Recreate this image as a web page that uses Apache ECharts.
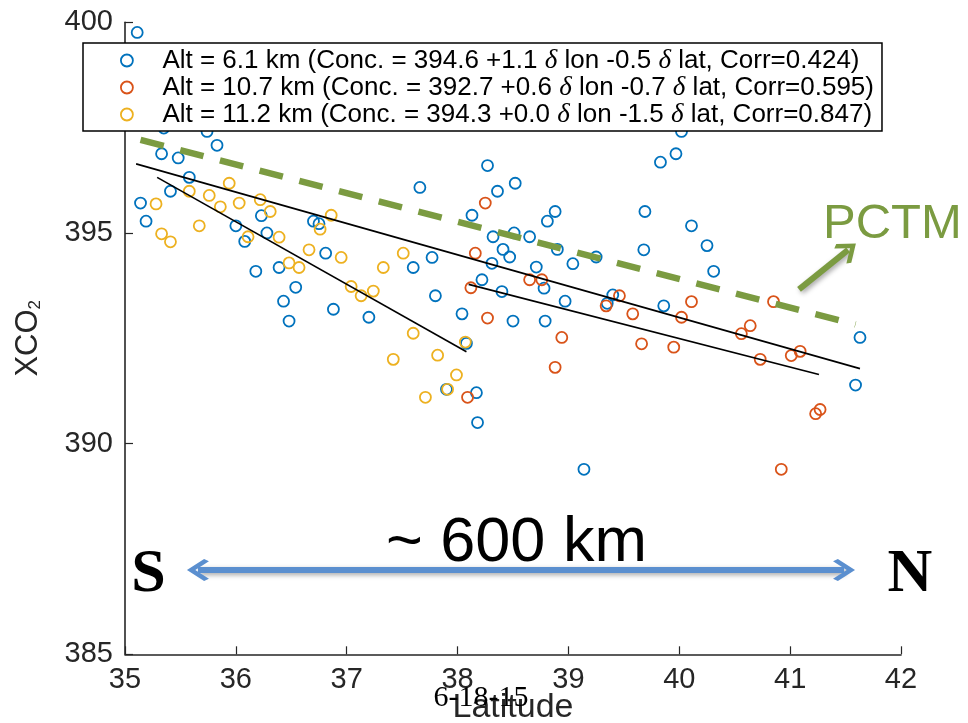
<!DOCTYPE html>
<html>
<head>
<meta charset="utf-8">
<script src="https://cdn.jsdelivr.net/npm/echarts@6/dist/echarts.min.js"></script>
<style>
  html, body { margin: 0; padding: 0; background: #fff; }
  #chart { width: 968px; height: 723px; }
</style>
</head>
<body>
<div id="chart"></div>
<script>
// XCO2 along the flight track, three altitude legs (latitude vs. column CO2)
const seriesNames = [
  'Alt = 6.1 km (Conc. = 394.6 +1.1 δ lon -0.5 δ lat, Corr=0.424)',
  'Alt = 10.7 km (Conc. = 392.7 +0.6 δ lon -0.7 δ lat, Corr=0.595)',
  'Alt = 11.2 km (Conc. = 394.3 +0.0 δ lon -1.5 δ lat, Corr=0.847)'
];

// 6.1 km leg
const lat61 = [35.11, 35.35, 35.53, 35.74, 35.83, 35.33, 35.48, 35.58, 35.41, 36.23,
  35.14, 35.19, 36.00, 36.08, 36.28, 36.18, 36.39, 36.81, 36.54, 36.43,
  36.48, 36.88, 37.20, 37.60, 37.77, 37.80, 38.04, 38.08, 37.90, 38.17,
  38.18, 36.70, 36.75, 37.66, 38.27, 38.36, 38.52, 38.13, 38.32, 38.51,
  38.65, 38.81, 38.88, 38.31, 38.22, 38.41, 38.47, 38.90, 39.04, 39.25,
  39.68, 39.69, 40.02, 39.97, 39.83, 40.11, 40.25, 40.31, 38.71, 38.78,
  38.40, 38.97, 38.50, 38.79, 39.40, 39.35, 39.86, 41.63, 41.59, 39.14];
const xco61 = [399.76, 397.49, 397.62, 397.41, 397.08, 396.88, 396.78, 396.32, 395.99, 395.41,
  395.71, 395.28, 395.17, 394.80, 395.00, 394.09, 394.18, 394.52, 393.71, 393.38,
  392.91, 393.19, 393.00, 394.18, 394.42, 393.51, 393.08, 392.38, 391.29, 391.21,
  390.50, 395.28, 395.22, 396.08, 396.60, 395.99, 396.18, 395.42, 394.91, 395.00,
  394.91, 395.28, 395.51, 394.28, 393.89, 394.61, 394.43, 394.61, 394.27, 394.43,
  394.60, 395.51, 397.41, 396.88, 396.68, 395.17, 394.70, 394.09, 394.19, 393.69,
  393.61, 393.38, 392.91, 392.91, 393.53, 393.33, 393.27, 392.52, 391.39, 389.39];

// 10.7 km leg
const lat107 = [38.25, 38.16, 38.12, 38.27, 38.09, 38.65, 38.76, 38.94, 38.88, 39.46,
  39.34, 39.58, 40.11, 40.02, 39.66, 39.95, 40.85, 40.64, 40.56, 40.73,
  41.01, 41.09, 41.23, 41.27, 40.92];
const xco107 = [395.71, 394.52, 393.70, 392.98, 391.10, 393.89, 393.89, 392.52, 391.81, 393.51,
  393.27, 393.08, 393.37, 393.00, 392.37, 392.29, 393.37, 392.80, 392.61, 392.00,
  392.09, 392.19, 390.71, 390.81, 389.39];

// 11.2 km leg
const lat112 = [35.94, 35.58, 35.76, 35.86, 36.03, 36.22, 36.31, 35.28, 35.33, 35.41,
  35.67, 36.11, 36.39, 36.86, 36.76, 36.66, 36.48, 36.57, 36.95, 37.04,
  37.13, 37.24, 37.33, 37.51, 37.60, 37.42, 37.82, 38.07, 37.99, 37.71, 37.91];
const xco112 = [396.18, 395.99, 395.89, 395.62, 395.71, 395.79, 395.51, 395.69, 394.98, 394.79,
  395.17, 394.91, 394.90, 395.42, 395.09, 394.60, 394.29, 394.18, 394.42, 393.73,
  393.51, 393.62, 394.18, 394.52, 392.62, 392.00, 392.10, 392.41, 391.63, 391.10, 391.29];

// Linear fits for each leg: [lat, xco2] at both ends
const fit61 = [[35.10, 396.64], [41.63, 391.78]];
const fit107 = [[38.10, 393.78], [41.26, 391.64]];
const fit112 = [[35.29, 396.32], [38.08, 392.18]];

// PCTM model along the track
const pctmLine = [[35.14, 397.21], [41.59, 392.83]];

// Annotation arrows (data coordinates)
const pctmPointer = [[41.08, 393.66], [41.523, 394.60]];
const spanArrow = [[35.658, 387.0], [41.486, 387.0]];

const xTicks = [35, 42, 1];
const yTicks = [385, 400, 5];

const colors = ['#0072BD', '#D95319', '#EDB120'];
const green = '#7b9b41';
const arrowBlue = '#5b8fcf';
const axisColor = '#262626';
const SANS = 'Liberation Sans, Arial, Helvetica, sans-serif';
const SERIF = 'Liberation Serif, Times New Roman, serif';
const chevron = 'path://M50,0 L100,78 L90,100 L50,38 L10,100 L0,78 Z';

const zip = (a, b) => a.map((v, i) => [v, b[i]]);

const chart = echarts.init(document.getElementById('chart'), null, { renderer: 'canvas' });

function scatter(name, lat, xco, color) {
  return {
    type: 'scatter', name, data: zip(lat, xco),
    symbol: 'circle', symbolSize: 11, silent: true,
    itemStyle: { color: 'rgba(0,0,0,0)', borderColor: color, borderWidth: 1.8, opacity: 1 },
    emphasis: { disabled: true }, z: 2
  };
}
function fitLine(pts) {
  return {
    type: 'line', data: pts, symbol: 'none', silent: true,
    lineStyle: { color: '#000', width: 1.6 }, emphasis: { disabled: true }, z: 3
  };
}

const option = {
  animation: false,
  backgroundColor: '#fff',
  grid: { left: 125, right: 67, top: 22.3, bottom: 68.7, containLabel: false, outerBoundsMode: 'none' },
  xAxis: {
    type: 'value', min: xTicks[0], max: xTicks[1], interval: xTicks[2],
    name: 'Latitude', nameLocation: 'middle', nameGap: 36, nameMoveOverlap: false,
    nameTextStyle: { fontFamily: SANS, fontSize: 34, color: axisColor },
    axisLine: { show: true, onZero: false, lineStyle: { color: axisColor, width: 1.6 } },
    axisTick: { show: true, inside: true, length: 8, lineStyle: { color: axisColor, width: 1.2 } },
    axisLabel: { fontFamily: SANS, fontSize: 29, color: axisColor, margin: 11 },
    splitLine: { show: false }
  },
  yAxis: {
    type: 'value', min: yTicks[0], max: yTicks[1], interval: yTicks[2],
    name: '{a|XCO}{b|2}', nameLocation: 'middle', nameRotate: 90, nameGap: 81,
    nameTextStyle: {
      fontFamily: SANS, color: axisColor,
      rich: {
        a: { fontFamily: SANS, fontSize: 31, lineHeight: 31, verticalAlign: 'top', color: axisColor },
        b: { fontFamily: SANS, fontSize: 17, lineHeight: 17, verticalAlign: 'bottom', padding: [29, 0, 0, 0], color: axisColor }
      }
    },
    axisLine: { show: true, onZero: false, lineStyle: { color: axisColor, width: 1.6 } },
    axisTick: { show: true, inside: true, length: 8, lineStyle: { color: axisColor, width: 1.2 } },
    axisLabel: { fontFamily: SANS, fontSize: 29, color: axisColor, margin: 12 },
    splitLine: { show: false }
  },
  legend: {
    left: 83, top: 43, orient: 'vertical', selectedMode: false,
    padding: [4, 8, 3, 37], itemGap: 0, itemWidth: 61, itemHeight: 12,
    borderColor: '#000', borderWidth: 1.5, backgroundColor: '#fff',
    data: seriesNames.map((n, i) => ({
      name: n, icon: 'circle',
      itemStyle: { color: 'rgba(0,0,0,0)', borderColor: colors[i], borderWidth: 1.8 }
    })),
    formatter: n => n.replace(/δ/g, '{d|δ}'),
    textStyle: {
      fontFamily: SANS, fontSize: 26, color: '#000', lineHeight: 24.5,
      rich: { d: { fontFamily: SERIF, fontStyle: 'italic', fontSize: 27, color: '#000', lineHeight: 24.5 } }
    }
  },
  series: [
    scatter(seriesNames[0], lat61, xco61, colors[0]),
    scatter(seriesNames[1], lat107, xco107, colors[1]),
    scatter(seriesNames[2], lat112, xco112, colors[2]),
    fitLine(fit61),
    fitLine(fit107),
    fitLine(fit112),
    {
      type: 'line', data: pctmLine, symbol: 'none', silent: true, z: 4,
      lineStyle: { color: green, width: 6.5, type: [24, 17], cap: 'butt' },
      emphasis: { disabled: true }
    },
    {
      type: 'line', data: [], silent: true, z: 5,
      markLine: {
        silent: true, animation: false, label: { show: false },
        symbol: ['none', chevron], symbolSize: [24, 20],
        lineStyle: {
          color: green, width: 6, type: 'solid',
          shadowColor: 'rgba(0,0,0,0.35)', shadowBlur: 5, shadowOffsetX: 2, shadowOffsetY: 2
        },
        emphasis: { disabled: true },
        data: [[{ coord: pctmPointer[0] }, { coord: pctmPointer[1] }]]
      }
    },
    {
      type: 'line', data: [], silent: true, z: 5,
      markLine: {
        silent: true, animation: false, label: { show: false },
        symbol: [chevron, chevron], symbolSize: [22, 22],
        lineStyle: {
          color: arrowBlue, width: 6, type: 'solid',
          shadowColor: 'rgba(0,0,0,0.35)', shadowBlur: 5, shadowOffsetX: 2, shadowOffsetY: 2
        },
        emphasis: { disabled: true },
        data: [[{ coord: spanArrow[0] }, { coord: spanArrow[1] }]]
      }
    }
  ],
  graphic: [
    { type: 'text', x: 823, y: 224, z: 10, silent: true,
      style: { text: 'PCTM', font: '49px ' + SANS, fill: green, textAlign: 'left', textVerticalAlign: 'middle' } },
    { type: 'text', x: 386, y: 544, z: 10, silent: true,
      style: { text: '~ 600 km', font: '63px ' + SANS, fill: '#000', textAlign: 'left', textVerticalAlign: 'middle' } },
    { type: 'text', x: 148.5, y: 575, z: 10, silent: true,
      style: { text: 'S', font: 'bold 62px ' + SERIF, fill: '#000', textAlign: 'center', textVerticalAlign: 'middle' } },
    { type: 'text', x: 910, y: 575, z: 10, silent: true,
      style: { text: 'N', font: 'bold 62px ' + SERIF, fill: '#000', textAlign: 'center', textVerticalAlign: 'middle' } },
    { type: 'text', x: 481, y: 698, z: 10, silent: true,
      style: { text: '6-18-15', font: '30px ' + SERIF, fill: '#000', textAlign: 'center', textVerticalAlign: 'middle' } }
  ]
};

chart.setOption(option);
</script>
</body>
</html>
